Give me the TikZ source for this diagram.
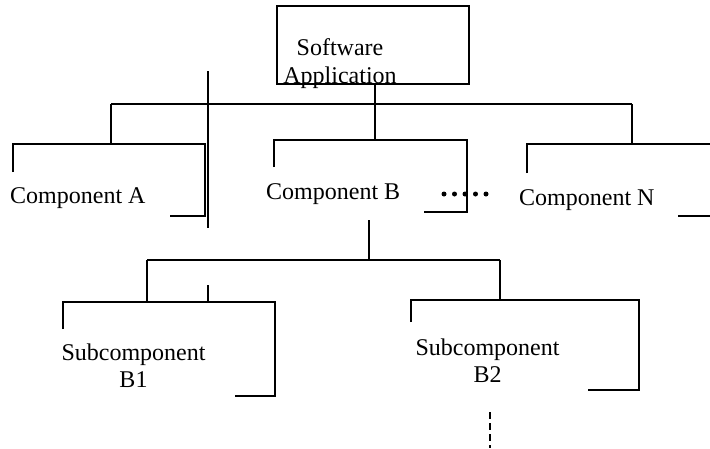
\documentclass[tikz,border=0pt]{standalone}
\usepackage{fontspec}
\setmainfont{Liberation Serif}
\begin{document}
\begin{tikzpicture}[x=1pt,y=-1pt,
  ln/.style={line width=1.2pt, line join=miter},
  lbl/.style={inner sep=0pt, anchor=base, font=\fontsize{24}{27}\selectfont},
  lblw/.style={inner sep=0pt, anchor=base west, font=\fontsize{24}{27}\selectfont},
  dotmark/.style={circle, fill=black, inner sep=0pt, minimum size=5pt}]
\useasboundingbox (0,0) rectangle (710,448);
% texts
\node[lbl] (sw) at (340,55) {Software};
\node[lbl] (app) at (340,83) {Application};
\node[lblw] (ca) at (10,203) {Component A};
\node[lblw] (cb) at (266,199) {Component B};
\node[lblw] (cn) at (519,205) {Component N};
\node[lbl] (s1) at (133.5,360) {Subcomponent};
\node[lbl] (b1) at (133.5,387) {B1};
\node[lbl] (s2) at (487.5,355) {Subcomponent};
\node[lbl] (b2) at (487.5,382) {B2};
% root box
\draw[ln] (277,6) rectangle (469,84);
% connectors from root
\draw[ln] (375,84) -- (375,140);
\draw[ln] (111,104) -- (632,104);
\draw[ln] (111,104) -- (111,144);
\draw[ln] (632,104) -- (632,144);
% component A bracket
\draw[ln] (13,172) -- (13,144) -- (205,144) -- (205,216) -- (170,216);
\draw[ln] (208,71) -- (208,228);
% component B bracket
\draw[ln] (274,167) -- (274,140) -- (467,140) -- (467,212) -- (424,212);
% component N bracket
\draw[ln] (527,173) -- (527,144) -- (710,144);
\draw[ln] (678,216) -- (710,216);
% dots
\foreach \i/\x in {1/444,2/454.5,3/465,4/475.5,5/486}
  \node[dotmark] (d\i) at (\x,194) {};
% sub level
\draw[ln] (369,220) -- (369,260);
\draw[ln] (147,260) -- (500,260);
\draw[ln] (147,260) -- (147,302);
\draw[ln] (500,260) -- (500,300);
% B1 bracket
\draw[ln] (63,329) -- (63,302) -- (275,302) -- (275,396) -- (235,396);
\draw[ln] (208,285) -- (208,302);
% B2 bracket
\draw[ln] (411,322) -- (411,300) -- (639,300) -- (639,390) -- (588,390);
% dashed continuation
\draw[ln, dash pattern=on 7pt off 4pt] (490,412) -- (490,448);
\end{tikzpicture}
\end{document}
